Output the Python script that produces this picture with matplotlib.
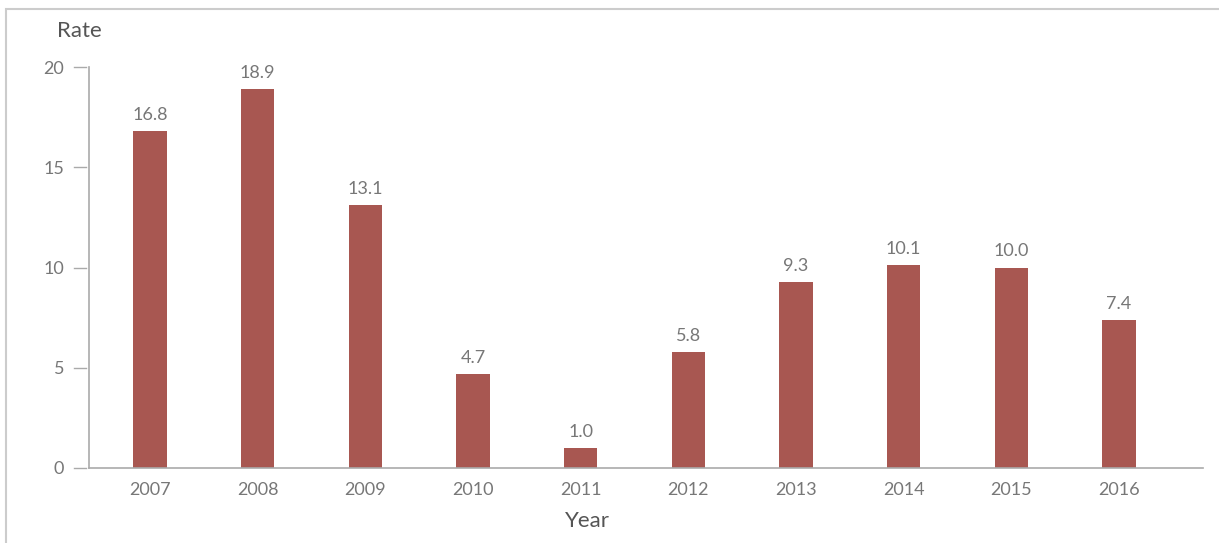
import matplotlib
matplotlib.use("Agg")
import matplotlib.pyplot as plt
from matplotlib.patches import Rectangle
from matplotlib.transforms import blended_transform_factory

years = ["2007", "2008", "2009", "2010", "2011", "2012", "2013", "2014", "2015", "2016"]
rates = [16.8, 18.9, 13.1, 4.7, 1.0, 5.8, 9.3, 10.1, 10.0, 7.4]
y_ticks = [0, 5, 10, 15, 20]

bar_color = "#A85751"
text_color = "#777777"
axis_color = "#AAAAAA"

plt.rcParams["font.family"] = ["Lato", "DejaVu Sans"]

fig = plt.figure(figsize=(12.19, 5.43), dpi=100)
ax = fig.add_axes([89 / 1219, 1 - 468 / 543, (1203 - 89) / 1219, (468 - 67) / 543])

x = range(len(years))
bars = ax.bar(x, rates, width=0.31, color=bar_color)

for xi, v in zip(x, rates):
    ax.text(xi, v + 0.4, f"{v:.1f}", ha="center", va="bottom",
            fontsize=13, color=text_color)

ax.set_xlim(-0.566, 9.78)
ax.set_ylim(0, 20)

ax.set_xticks(list(x))
ax.set_xticklabels(years, fontsize=13, color=text_color)
ax.tick_params(axis="x", length=0, pad=10)

# y ticks drawn as short dashes detached from the axis line
ax.set_yticks(y_ticks)
ax.set_yticklabels([str(t) for t in y_ticks], fontsize=13, color=text_color)
ax.tick_params(axis="y", length=0, pad=18)
trans = blended_transform_factory(ax.transAxes, ax.transData)
for t in y_ticks:
    ax.plot([-0.0135, -0.0027], [t, t], transform=trans, color=axis_color,
            lw=1, clip_on=False)

for side in ("top", "right"):
    ax.spines[side].set_visible(False)
for side in ("left", "bottom"):
    ax.spines[side].set_color(axis_color)
    ax.spines[side].set_linewidth(1.2)

fig.text(57 / 1219, 1 - 31 / 543, "Rate", fontsize=16, color="#555555",
         ha="left", va="center")
fig.text(587 / 1219, 1 - 521 / 543, "Year", fontsize=16, color="#555555",
         ha="center", va="center")

# outer frame
fig.patches.append(Rectangle((6 / 1219, -0.05), 1.1, 1 - 9 / 543 + 0.05,
                             transform=fig.transFigure, fill=False,
                             edgecolor="#CCCCCC", lw=1.5, clip_on=False))

fig.savefig("out.png", dpi=100)
